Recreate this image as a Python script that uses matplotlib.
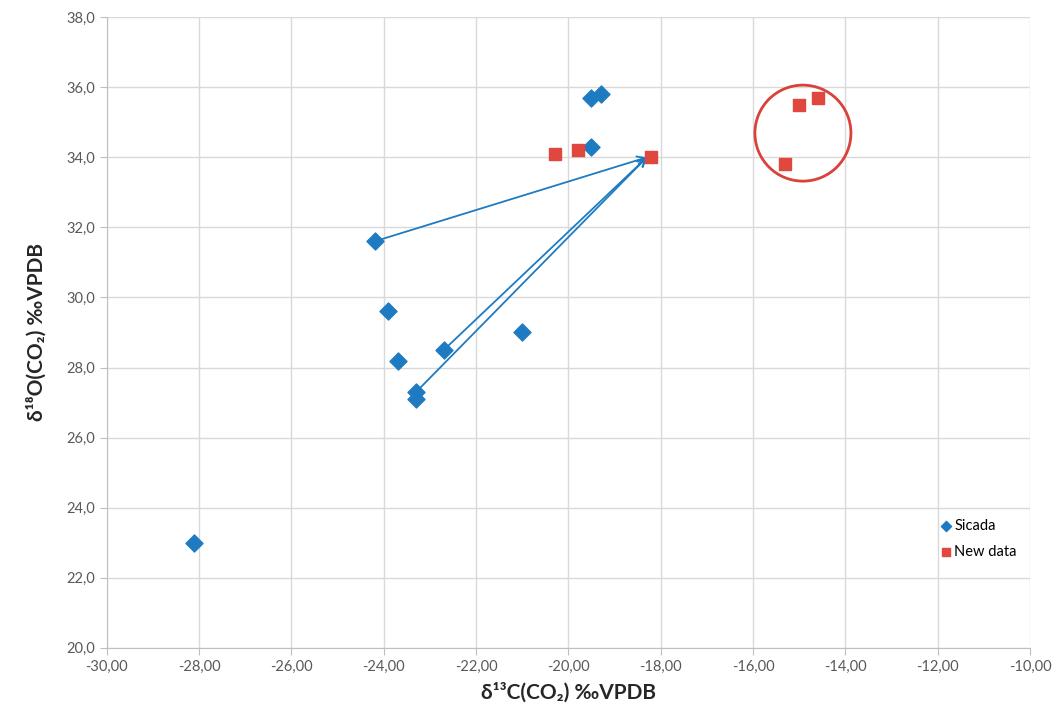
import matplotlib.pyplot as plt
from matplotlib.patches import Ellipse

# Sicada series
sicada_x = [-28.1, -24.2, -23.9, -23.7, -23.3, -23.3, -22.7, -21.0, -19.5, -19.3, -19.5]
sicada_y = [23.0, 31.6, 29.6, 28.2, 27.3, 27.1, 28.5, 29.0, 35.7, 35.8, 34.3]

# New data series
new_x = [-20.3, -19.8, -18.2, -15.3, -15.0, -14.6]
new_y = [34.1, 34.2, 34.0, 33.8, 35.5, 35.7]

# arrows: start points -> common tip
arrow_starts = [(-24.2, 31.6), (-23.3, 27.3), (-22.7, 28.5)]
arrow_tip = (-18.3, 34.0)

xticks = list(range(-30, -9, 2))
yticks = list(range(20, 39, 2))

blue = '#1f7bc1'
red = '#e0473f'
grey = '#595959'

plt.rcParams['font.family'] = ['Lato', 'DejaVu Sans']

fig = plt.figure(figsize=(10.57, 7.15), dpi=100)
ax = fig.add_axes([0.101, 0.094, 0.8735, 0.882])

ax.scatter(sicada_x, sicada_y, marker='D', s=75, color=blue, label='Sicada', zorder=3)
ax.scatter(new_x, new_y, marker='s', s=85, color=red, label='New data', zorder=3)

for sx, sy in arrow_starts:
    ax.annotate('', xy=arrow_tip, xytext=(sx, sy),
                arrowprops=dict(arrowstyle='->', color=blue, lw=1.3,
                                shrinkA=0, shrinkB=0, mutation_scale=14), zorder=2)

ax.add_patch(Ellipse((-14.92, 34.69), 2.08, 2.74, fill=False, edgecolor='#d9413a', lw=2, zorder=4))

ax.set_xlim(-30, -10)
ax.set_ylim(20, 38)
ax.set_xticks(xticks)
ax.set_yticks(yticks)
ax.set_xticklabels([f'{t:.2f}'.replace('.', ',') for t in xticks], fontsize=10.5, color=grey)
ax.set_yticklabels([f'{t:.1f}'.replace('.', ',') for t in yticks], fontsize=10.5, color=grey)
ax.grid(True, color='#d9d9d9', lw=1)
ax.set_axisbelow(True)
ax.tick_params(length=5, color='#bfbfbf', direction='out')

for side in ['top', 'right']:
    ax.spines[side].set_visible(False)
for side in ['left', 'bottom']:
    ax.spines[side].set_color('#bfbfbf')

ax.set_xlabel('δ¹³C(CO₂) ‰VPDB', fontsize=15, fontweight='bold', color='#262626', labelpad=6)
ax.set_ylabel('δ¹⁸O(CO₂) ‰VPDB', fontsize=15, fontweight='bold', color='#262626', labelpad=14)

ax.legend(loc='lower right', bbox_to_anchor=(1.0, 0.12), frameon=False, fontsize=10.5,
          handletextpad=0.1, handlelength=1.0, markerscale=0.6, labelspacing=0.8)

fig.savefig('out.png', dpi=100, facecolor='white')
